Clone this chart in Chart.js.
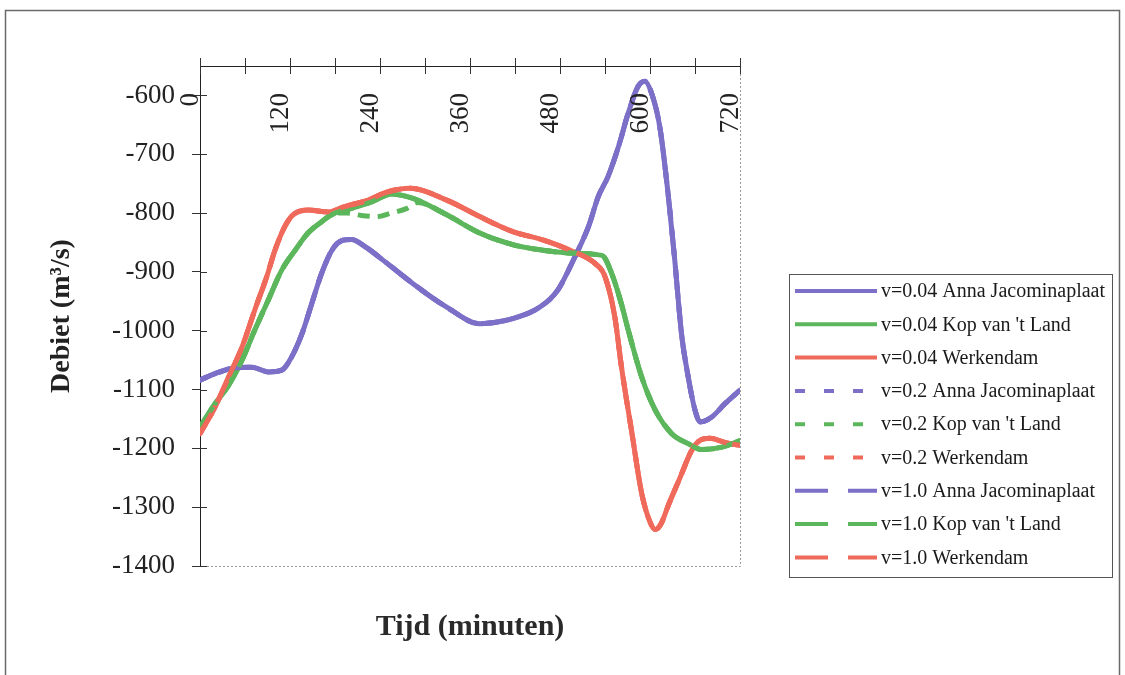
<!DOCTYPE html>
<html><head><meta charset="utf-8">
<script src="https://cdn.jsdelivr.net/npm/chart.js@4/dist/chart.umd.min.js"></script>
<style>html,body{margin:0;padding:0;background:#fff;}canvas{display:block;}</style>
</head><body>
<canvas id="c" width="1125" height="675"></canvas>
<script>
// ---- data ----
const xTickLabels = ['0','120','240','360','480','600','720'];
const xTickValues = [0,120,240,360,480,600,720];
const yTickValues = [-1400,-1300,-1200,-1100,-1000,-900,-800,-700,-600];
const seriesLabels = ['v=0.04 Anna Jacominaplaat','v=0.04 Kop van \'t Land','v=0.04 Werkendam',
  'v=0.2 Anna Jacominaplaat','v=0.2 Kop van \'t Land','v=0.2 Werkendam',
  'v=1.0 Anna Jacominaplaat','v=1.0 Kop van \'t Land','v=1.0 Werkendam'];

const tAnna = [0,20,47,69,91,109,122,136,149,162,176,189,202,220,247,284,329,373,418,453,477,500,518,531,544,558,571,584,593,602,613,624,633,642,651,660,667,682,700,720];
const anna004 = [-1084,-1073,-1063,-1062,-1070,-1067,-1045,-1005,-954,-903,-863,-847,-845,-857,-883,-920,-960,-988,-979,-960,-931,-874,-823,-772,-738,-687,-630,-585,-576,-596,-653,-766,-880,-1005,-1079,-1135,-1155,-1147,-1124,-1101];
const anna02  = [-1084,-1073,-1063,-1062,-1070,-1067,-1045,-1005,-954,-903,-863,-847,-845,-857,-883,-920,-960,-988,-979,-960,-931,-874,-823,-772,-738,-687,-630,-585,-576,-596,-653,-766,-880,-1005,-1079,-1135,-1155,-1147,-1124,-1101];
const anna10  = [-1084,-1073,-1063,-1062,-1070,-1067,-1045,-1005,-954,-903,-863,-847,-845,-857,-883,-920,-960,-988,-979,-960,-931,-874,-823,-772,-738,-687,-630,-585,-576,-596,-653,-766,-880,-1005,-1079,-1135,-1155,-1147,-1124,-1101];

const tKop = [0,20,38,56,73,91,109,127,144,162,180,202,229,255,284,329,373,418,462,493,536,549,562,571,589,607,629,651,669,696,720];
const kop004 = [-1164,-1124,-1093,-1050,-999,-948,-897,-863,-834,-815,-800,-792,-781,-768,-775,-803,-834,-854,-864,-868,-872,-903,-955,-999,-1079,-1135,-1175,-1192,-1202,-1198,-1187];
const kop10  = [-1164,-1124,-1093,-1050,-999,-948,-897,-863,-834,-815,-800,-792,-781,-768,-775,-803,-834,-854,-864,-868,-872,-903,-955,-999,-1079,-1135,-1175,-1192,-1202,-1198,-1187];
const tKop02 = [0,20,38,56,73,91,109,127,144,162,180,196,215,236,255,276,290,329,373,418,462,493,536,549,562,571,589,607,629,651,669,696,720];
const kop02  = [-1164,-1124,-1093,-1050,-999,-948,-897,-863,-834,-815,-800,-800,-804,-806,-800,-792,-782,-803,-834,-854,-864,-868,-872,-903,-955,-999,-1079,-1135,-1175,-1192,-1202,-1198,-1187];

const tWerk = [0,20,38,56,73,89,100,113,124,144,171,193,224,250,280,329,373,418,458,493,527,540,553,562,576,589,600,607,614,625,640,655,665,680,700,720];
const werk004 = [-1175,-1130,-1079,-1028,-965,-908,-863,-823,-803,-795,-798,-789,-778,-764,-758,-778,-806,-832,-846,-863,-886,-908,-976,-1062,-1175,-1277,-1325,-1338,-1330,-1295,-1250,-1205,-1188,-1183,-1190,-1195];
const werk02  = [-1175,-1130,-1079,-1028,-965,-908,-863,-823,-803,-795,-798,-789,-778,-764,-758,-778,-806,-832,-846,-863,-886,-908,-976,-1062,-1175,-1277,-1325,-1338,-1330,-1295,-1250,-1205,-1188,-1183,-1190,-1195];
const werk10  = [-1175,-1130,-1079,-1028,-965,-908,-863,-823,-803,-795,-798,-789,-778,-764,-758,-778,-806,-832,-846,-863,-886,-908,-976,-1062,-1175,-1277,-1325,-1338,-1330,-1295,-1250,-1205,-1188,-1183,-1190,-1195];

// ---- styles ----
const PURPLE = '#7b6fc8', GREEN = '#5cb65c', RED = '#f06a5c';
const SERIF = "'Liberation Serif','Times New Roman',serif";
const colors = [PURPLE,GREEN,RED,PURPLE,GREEN,RED,PURPLE,GREEN,RED];
const plotDash = [[],[],[],[12,8],[12,8],[12,8],[24,12],[24,12],[24,12]];
const legendDash = [[],[],[],[10,19],[10,19],[10,19],[33,20],[33,20],[33,20]];
const seriesT = [tAnna,tKop,tWerk,tAnna,tKop02,tWerk,tAnna,tKop,tWerk];
const seriesV = [anna004,kop004,werk004,anna02,kop02,werk02,anna10,kop10,werk10];

const pts = (t,v) => t.map((x,i)=>({x:x,y:v[i]}));
const datasets = seriesLabels.map((lab,i)=>({
  label: lab,
  data: pts(seriesT[i], seriesV[i]),
  borderColor: colors[i],
  backgroundColor: colors[i],
  borderWidth: 5,
  borderDash: plotDash[i],
  borderCapStyle: i<3 ? 'round' : 'butt',
  borderJoinStyle: 'round',
  pointRadius: 0,
  cubicInterpolationMode: 'monotone',
  fill: false,
  order: 9 - i
}));

const decor = {
  id: 'decor',
  beforeDraw(chart){
    const ctx = chart.ctx;
    ctx.save();
    ctx.fillStyle = '#fff';
    ctx.fillRect(0,0,chart.width,chart.height);
    ctx.strokeStyle = '#6a6a6a';
    ctx.lineWidth = 1.5;
    ctx.strokeRect(5.5,10.5,1114,700);
    ctx.restore();
  },
  beforeDatasetsDraw(chart){
    const ctx = chart.ctx, a = chart.chartArea;
    ctx.save();
    ctx.strokeStyle = '#9a9a9a';
    ctx.lineWidth = 1;
    ctx.setLineDash([2,2]);
    ctx.beginPath();
    ctx.moveTo(a.right+0.5, a.top);
    ctx.lineTo(a.right+0.5, a.bottom+0.5);
    ctx.lineTo(a.left, a.bottom+0.5);
    ctx.stroke();
    // inward halves of the crossing tick marks
    ctx.setLineDash([]);
    ctx.strokeStyle = '#333';
    ctx.beginPath();
    chart.scales.x.ticks.forEach(t=>{
      const px = Math.round(chart.scales.x.getPixelForValue(t.value)) + 0.5;
      ctx.moveTo(px, a.top); ctx.lineTo(px, a.top + 8);
    });
    yTickValues.forEach(v=>{
      const py = Math.round(chart.scales.y.getPixelForValue(v)) + 0.5;
      ctx.moveTo(a.left, py); ctx.lineTo(a.left + 7, py);
    });
    ctx.stroke();
    ctx.restore();
  },
  afterDraw(chart){
    const ctx = chart.ctx, a = chart.chartArea, xs = chart.scales.x;
    ctx.save();
    // rotated x tick labels inside plot
    ctx.fillStyle = '#222';
    ctx.font = '27px ' + SERIF;
    ctx.textAlign = 'right';
    ctx.textBaseline = 'middle';
    xTickValues.forEach((v,i)=>{
      const px = xs.getPixelForValue(v) - 9;
      ctx.save();
      ctx.translate(px, a.top + 27);
      ctx.rotate(-Math.PI/2);
      ctx.fillText(xTickLabels[i], 0, 0);
      ctx.restore();
    });
    // x axis title at bottom
    ctx.font = 'bold 30px ' + SERIF;
    ctx.textAlign = 'center';
    ctx.textBaseline = 'middle';
    ctx.fillStyle = '#2a2a2a';
    ctx.fillText('Tijd (minuten)', (a.left + a.right)/2, 627);
    // legend
    const L = {x:789, y:274, w:323, h:303};
    ctx.strokeStyle = '#555';
    ctx.lineWidth = 1;
    ctx.setLineDash([]);
    ctx.strokeRect(L.x+0.5, L.y+0.5, L.w, L.h);
    ctx.font = '20px ' + SERIF;
    ctx.textAlign = 'left';
    ctx.fillStyle = '#1a1a1a';
    chart.data.datasets.forEach((ds,i)=>{
      const y = 291 + i*33.3;
      ctx.save();
      ctx.strokeStyle = ds.borderColor;
      ctx.lineWidth = 4;
      ctx.lineCap = 'butt';
      ctx.setLineDash(legendDash[i]);
      ctx.beginPath();
      ctx.moveTo(795, y);
      ctx.lineTo(877, y);
      ctx.stroke();
      ctx.restore();
      ctx.fillText(ds.label, 881, y+1);
    });
    ctx.restore();
  }
};

new Chart(document.getElementById('c'), {
  type: 'line',
  data: { datasets: datasets },
  plugins: [decor],
  options: {
    responsive: false,
    animation: false,
    layout: { padding: { left: 0, top: 0, right: 385, bottom: 109 } },
    plugins: { legend: { display: false }, tooltip: { enabled: false } },
    scales: {
      x: {
        type: 'linear', position: 'top', min: 0, max: 720,
        ticks: { stepSize: 60, display: false },
        grid: { drawOnChartArea: false, drawTicks: true, tickLength: 8, color: '#333' },
        border: { display: true, color: '#222', width: 1 },
        afterFit(s){ s.height = 66; }
      },
      y: {
        type: 'linear', position: 'left', min: -1400, max: -550,
        afterBuildTicks(s){ s.ticks = yTickValues.map(v=>({value:v})); },
        ticks: { callback: v => String(v), font: { family: SERIF, size: 27 }, color: '#222', padding: 17 },
        grid: { drawOnChartArea: false, drawTicks: true, tickLength: 8, color: '#333' },
        border: { display: true, color: '#222', width: 1 },
        title: { display: true, text: 'Debiet (m³/s)', font: { family: SERIF, size: 28, weight: 'bold' }, color: '#222', padding: { top: 45, bottom: 0 } },
        afterFit(s){ s.width = 200; }
      }
    }
  }
});
</script>
</body></html>
